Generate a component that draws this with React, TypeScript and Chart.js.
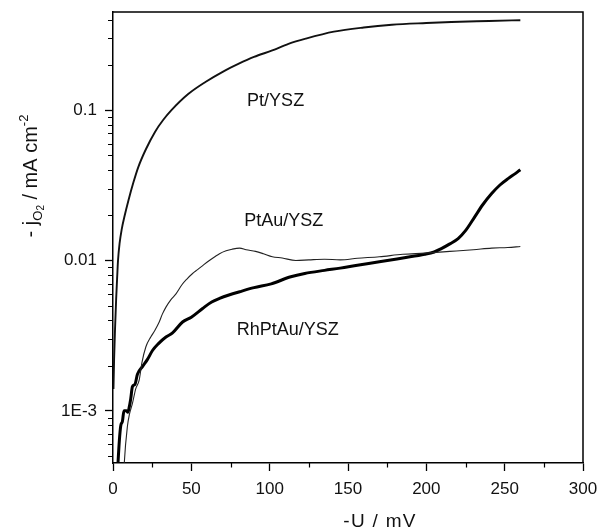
import React, { useEffect, useRef } from 'react';
import { Chart, registerables } from 'chart.js';

Chart.register(...registerables);

// -U / mV  vs  -j / mA cm^-2
const ptData: number[][] = [
  [0.3, 0.0014], [0.7, 0.0022], [1.3, 0.0035], [2, 0.0055], [2.6, 0.0075], [3.2, 0.01],
  [4.2, 0.013], [5.5, 0.016], [7.5, 0.02], [9.8, 0.025], [13, 0.033], [16.2, 0.042],
  [21, 0.055], [26.9, 0.072], [32, 0.086], [37.3, 0.1], [48, 0.128], [59, 0.154],
  [70, 0.18], [80, 0.203], [90, 0.226], [101.7, 0.25], [112, 0.276], [123, 0.299],
  [141, 0.333], [160, 0.355], [178, 0.37], [200, 0.38], [216, 0.386], [240, 0.392],
  [260, 0.397],
];

const ptAuData: number[][] = [
  [6.5, 0.0003], [7.2, 0.00045], [9.2, 0.00079], [10.5, 0.00095], [12.4, 0.00112],
  [14.5, 0.0014], [16.7, 0.0016], [18.5, 0.0021], [21, 0.00267], [24.1, 0.0031],
  [26.5, 0.0034], [29.5, 0.0039], [31.5, 0.0044], [33.8, 0.0049], [37, 0.0055],
  [40.2, 0.006], [44, 0.0069], [47, 0.0075], [50.8, 0.0082], [54, 0.0087], [58, 0.0094],
  [61.5, 0.01], [65, 0.0106], [68, 0.0111], [72.2, 0.0116], [76, 0.0119], [80.8, 0.0121],
  [85, 0.0118], [91, 0.0115], [96, 0.0111], [101.7, 0.0106], [108, 0.0104], [116.7, 0.01],
  [125, 0.0101], [135, 0.0102], [145, 0.0101], [156, 0.01035], [170, 0.0106], [185, 0.011],
  [199, 0.0112], [215, 0.0115], [230, 0.0118], [241.7, 0.0121], [252, 0.0122], [260, 0.0124],
];

const rhPtAuData: number[][] = [
  [2.5, 0.0003], [3.2, 0.00045], [4.9, 0.00079], [6, 0.00085], [7, 0.001], [8.5, 0.001],
  [9.5, 0.00098], [10.3, 0.00105], [11.3, 0.0012], [12.4, 0.00145], [14, 0.0015],
  [15.6, 0.00175], [18.8, 0.00197], [22, 0.0022], [25.2, 0.00252], [29, 0.0028],
  [33.8, 0.0031], [38, 0.0033], [44.4, 0.0039], [50, 0.0042], [57.2, 0.0048], [63, 0.0053],
  [68, 0.0056], [74, 0.0059], [80.8, 0.0062], [90, 0.0066], [101, 0.007], [113.5, 0.0078],
  [122.4, 0.0082], [135, 0.0086], [145, 0.0089], [156, 0.0093], [170, 0.0098], [185, 0.0104],
  [199, 0.011], [205, 0.0114], [209.6, 0.012], [215, 0.0129], [220.3, 0.014], [225, 0.0158],
  [231, 0.0196], [236, 0.0235], [241.7, 0.0279], [247, 0.0318], [252.4, 0.0352],
  [257, 0.038], [260, 0.0402],
];

const seriesNames = ['Pt/YSZ', 'PtAu/YSZ', 'RhPtAu/YSZ'];
// curve label anchors (data coords: left x, baseline y)
const labelX = [85.6, 83.7, 79];
const labelY = [0.107, 0.0171, 0.00318];

const yTickValues = [
  0.0005, 0.0006, 0.0007, 0.0008, 0.0009,
  0.001, 0.002, 0.003, 0.004, 0.005, 0.006, 0.007, 0.008, 0.009,
  0.01, 0.02, 0.03, 0.04, 0.05, 0.06, 0.07, 0.08, 0.09,
  0.1, 0.2, 0.3, 0.4,
];
const yMajorValues = [0.001, 0.01, 0.1];
const yMajorLabels = ['1E-3', '0.01', '0.1'];
const xMajorStep = 50;
const xMinorStep = 25;

const FONT = '"Liberation Sans", Arial, Helvetica, sans-serif';

function isYMajor(v: number) {
  return yMajorValues.some((m) => Math.abs(v - m) / m < 1e-6);
}
function yLabel(v: number) {
  const i = yMajorValues.findIndex((m) => Math.abs(v - m) / m < 1e-6);
  return i >= 0 ? yMajorLabels[i] : '';
}
function isXMajor(v: number) {
  return Math.abs(v % xMajorStep) < 1e-6;
}

const toPoints = (d: number[][]) => d.map(([x, y]) => ({ x, y }));

const decorPlugin = {
  id: 'decor',
  afterDraw(chart: any) {
    const { ctx, chartArea, scales } = chart;
    const xs = scales.x;
    const ys = scales.y;
    ctx.save();
    ctx.strokeStyle = '#000';
    ctx.lineWidth = 1.5;
    // frame top & right
    ctx.beginPath();
    ctx.moveTo(chartArea.left, chartArea.top);
    ctx.lineTo(chartArea.right, chartArea.top);
    ctx.lineTo(chartArea.right, chartArea.bottom);
    ctx.stroke();
    // minor ticks
    ctx.lineWidth = 1.2;
    ctx.beginPath();
    xs.ticks.forEach((t: any) => {
      if (!isXMajor(t.value)) {
        const px = Math.round(xs.getPixelForValue(t.value)) + 0.5;
        ctx.moveTo(px, chartArea.bottom);
        ctx.lineTo(px, chartArea.bottom + 4.5);
      }
    });
    ys.ticks.forEach((t: any) => {
      if (!isYMajor(t.value)) {
        const py = Math.round(ys.getPixelForValue(t.value)) + 0.5;
        ctx.moveTo(chartArea.left, py);
        ctx.lineTo(chartArea.left - 5, py);
      }
    });
    ctx.stroke();

    ctx.fillStyle = '#111';
    // curve labels
    ctx.font = `18px ${FONT}`;
    ctx.textBaseline = 'alphabetic';
    ctx.textAlign = 'left';
    seriesNames.forEach((n, i) => {
      ctx.fillText(n, xs.getPixelForValue(labelX[i]), ys.getPixelForValue(labelY[i]));
    });

    // x title
    ctx.font = `19px ${FONT}`;
    ctx.textAlign = 'center';
    try { (ctx as any).letterSpacing = '1.3px'; } catch (e) {}
    ctx.fillText('-U / mV', 380, 527);
    try { (ctx as any).letterSpacing = '0px'; } catch (e) {}

    // y title rotated with sub/superscripts
    ctx.translate(37, 176);
    ctx.rotate(-Math.PI / 2);
    ctx.textAlign = 'left';
    const big = `20px ${FONT}`;
    const small = `13px ${FONT}`;
    const parts: [string, string, number][] = [
      ['- j', big, 0],
      ['O', small, 5],
      ['2', `10px ${FONT}`, 7],
      [' / mA cm', big, 0],
      ['-2', small, -9],
    ];
    let total = 0;
    parts.forEach(([s, f]) => { ctx.font = f; total += ctx.measureText(s).width; });
    let cx = -total / 2;
    parts.forEach(([s, f, dy]) => {
      ctx.font = f;
      ctx.fillText(s, cx, dy);
      cx += ctx.measureText(s).width;
    });
    ctx.restore();
  },
};

export default function App() {
  const ref = useRef<HTMLCanvasElement | null>(null);
  useEffect(() => {
    if (!ref.current) return;
    const common = { pointRadius: 0, cubicInterpolationMode: 'monotone', clip: 0 };
    const chart = new Chart(ref.current, {
      type: 'line',
      data: {
        datasets: [
          { ...common, label: seriesNames[0], data: toPoints(ptData), borderColor: '#111', borderWidth: 1.9 } as any,
          { ...common, label: seriesNames[1], data: toPoints(ptAuData), borderColor: '#222', borderWidth: 1.1 } as any,
          { ...common, label: seriesNames[2], data: toPoints(rhPtAuData), borderColor: '#000', borderWidth: 3 } as any,
        ],
      },
      options: {
        animation: false,
        responsive: false,
        layout: { padding: { top: 12, right: 19, left: 0, bottom: 0 } },
        plugins: { legend: { display: false }, tooltip: { enabled: false } },
        scales: {
          x: {
            type: 'linear',
            min: 0,
            max: 300,
            afterFit: (s: any) => { s.height = 67; s.paddingLeft = 0; s.paddingRight = 0; },
            border: { display: true, color: '#000', width: 1.5 },
            grid: {
              display: true,
              drawOnChartArea: false,
              drawTicks: true,
              tickLength: 8,
              tickWidth: 1.3,
              tickColor: (c: any) => (c.tick && isXMajor(c.tick.value) ? '#000' : 'rgba(0,0,0,0)'),
            },
            ticks: {
              stepSize: xMinorStep,
              autoSkip: false,
              maxRotation: 0,
              padding: 8,
              color: '#111',
              font: { family: FONT, size: 17 },
              callback: (v: any) => (isXMajor(Number(v)) ? String(v) : ''),
            },
          },
          y: {
            type: 'logarithmic',
            min: 0.00045,
            max: 0.45,
            afterFit: (s: any) => { s.width = 113; s.paddingTop = 0; s.paddingBottom = 0; },
            afterBuildTicks: (s: any) => { s.ticks = yTickValues.map((v) => ({ value: v })); },
            border: { display: true, color: '#000', width: 1.5 },
            grid: {
              display: true,
              drawOnChartArea: false,
              drawTicks: true,
              tickLength: 8,
              tickWidth: 1.3,
              tickColor: (c: any) => (c.tick && isYMajor(c.tick.value) ? '#000' : 'rgba(0,0,0,0)'),
            },
            ticks: {
              autoSkip: false,
              padding: 8,
              color: '#111',
              font: { family: FONT, size: 17 },
              callback: (v: any) => yLabel(Number(v)),
            },
          },
        },
      } as any,
      plugins: [decorPlugin],
    });
    return () => chart.destroy();
  }, []);
  return (
    <div style={{ position: 'absolute', left: 0, top: 0, width: 602, height: 530, background: '#fff' }}>
      <canvas ref={ref} width={602} height={530} style={{ width: 602, height: 530, display: 'block' }} />
    </div>
  );
}
